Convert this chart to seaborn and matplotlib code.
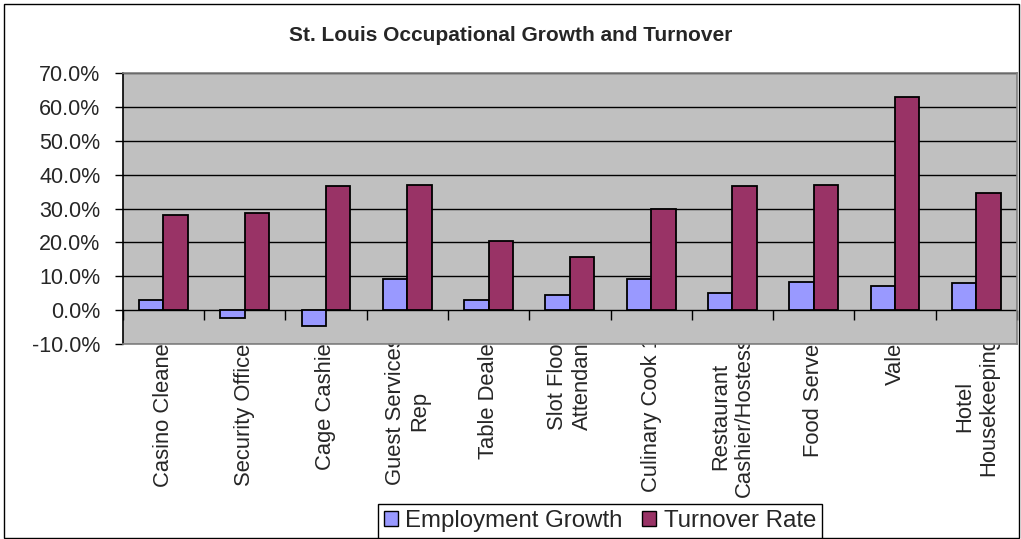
import pandas as pd
import numpy as np
import matplotlib
matplotlib.use("Agg")
import matplotlib.pyplot as plt
from matplotlib.ticker import PercentFormatter
from matplotlib.patches import Rectangle, Patch
from matplotlib.transforms import Bbox
import seaborn as sns

# данные (в процентах)
occupations = ["Casino Cleaner", "Security Officer", "Cage Cashier", "Guest Services\nRep",
               "Table Dealer", "Slot Floor\nAttendant", "Culinary Cook 1",
               "Restaurant\nCashier/Hostess", "Food Server", "Valet", "Hotel\nHousekeeping"]
employment_growth = [3.0, -2.2, -4.8, 9.3, 3.0, 4.6, 9.3, 5.2, 8.3, 7.2, 7.9]
turnover_rate = [28.1, 28.7, 36.6, 37.1, 20.3, 15.7, 29.8, 36.6, 37.1, 63.1, 34.7]
series_names = ["Employment Growth", "Turnover Rate"]
y_ticks = [-10, 0, 10, 20, 30, 40, 50, 60, 70]

colors = ["#9999FF", "#993366"]

df = pd.DataFrame({
    "occupation": occupations * 2,
    "value": employment_growth + turnover_rate,
    "series": [series_names[0]] * len(occupations) + [series_names[1]] * len(occupations),
})

sns.set_style("white")
plt.rcParams['font.family'] = ['Liberation Sans', 'DejaVu Sans']
plt.rcParams['axes.unicode_minus'] = False

fig = plt.figure(figsize=(10.21, 5.39), dpi=100)
ax = fig.add_axes([0.1202, 0.3618, 0.8759, 0.5022])
ax.set_facecolor("#C0C0C0")

sns.barplot(data=df, x="occupation", y="value", hue="series", palette=colors,
            saturation=1, width=0.6, edgecolor="black", linewidth=1.3, ax=ax, legend=False)

ax.set_ylim(y_ticks[0], y_ticks[-1])
ax.set_xlim(-0.5, len(occupations) - 0.5)
ax.set_yticks(y_ticks)
ax.yaxis.set_major_formatter(PercentFormatter(100, decimals=1))
ax.set_xlabel("")
ax.set_ylabel("")
ax.yaxis.grid(True, color="black", linewidth=1)
ax.set_axisbelow(True)

for side in ["top", "right", "bottom"]:
    ax.spines[side].set_color("#808080")
    ax.spines[side].set_linewidth(1.2)
ax.spines["left"].set_color("black")
ax.spines["left"].set_linewidth(1.2)

ax.tick_params(axis="y", left=True, length=6, width=1, color="black",
               labelsize=15.5, pad=10)
ax.tick_params(axis="x", length=0, labelsize=15.8, pad=-5.5, labelrotation=90)

# подписи категорий частично скрыты под областью построения, как в оригинале
clip = Bbox.from_extents(0, 0, 1021, 539 * 0.3618)
for lbl in ax.get_xticklabels():
    lbl.set_multialignment("center")
    lbl.set_clip_box(clip)
    lbl.set_clip_on(True)

# разделительные засечки на нулевой линии
sec = ax.secondary_xaxis(abs(y_ticks[0]) / (y_ticks[-1] - y_ticks[0]))
sec.set_xticks(np.arange(len(occupations) + 1) - 0.5, labels=[])
sec.tick_params(length=7, width=1, color="black", direction="out")
sec.spines["bottom"].set_visible(False)

fig.text(0.5, 0.935, "St. Louis Occupational Growth and Turnover",
         ha="center", va="center", fontsize=15, fontweight="bold")

handles = [Patch(facecolor=c, edgecolor="black", linewidth=1) for c in colors]
leg = fig.legend(handles, series_names, loc="lower center", bbox_to_anchor=(0.5875, 0.002),
                 ncol=2, fontsize=17.3, frameon=True, fancybox=False, framealpha=1,
                 edgecolor="black", handlelength=0.6, handleheight=0.6,
                 handletextpad=0.3, columnspacing=0.8, borderpad=0.25, borderaxespad=0)
leg.get_frame().set_linewidth(1)

fig.patches.append(Rectangle((0.004, 0.002), 0.994, 0.991, transform=fig.transFigure,
                             fill=False, edgecolor="black", linewidth=1))

plt.savefig("out.png", dpi=100)
